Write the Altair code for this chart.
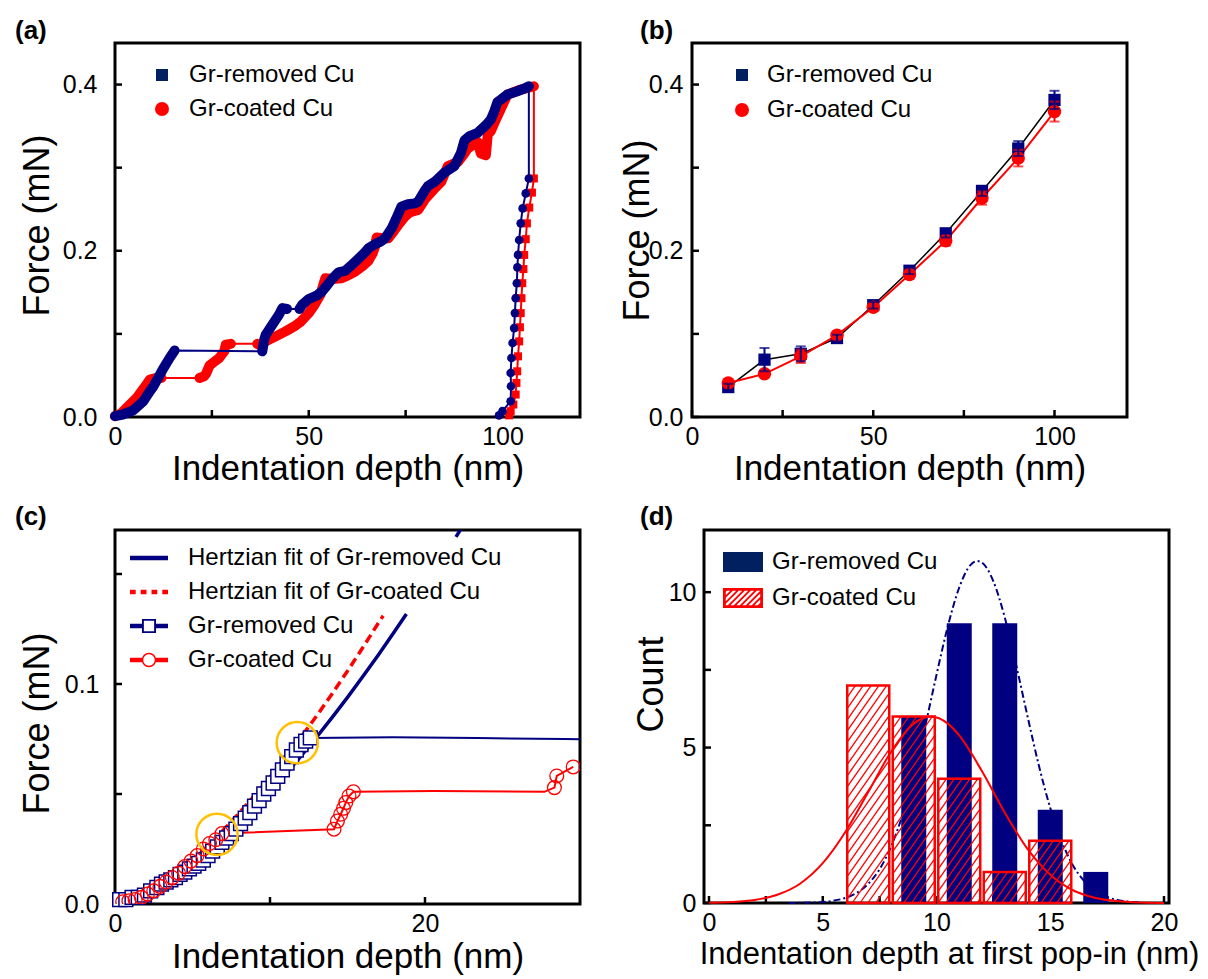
import altair as alt
import numpy as np
import pandas as pd

FONT = "Liberation Sans"
NAVY = "#000080"
KEY_NAVY = "#002060"
RED = "#FF0000"
GOLD = "#FFC000"

# ---------------- (a) load-displacement curves ----------------
a_rem_load1_x = [0, 2, 4.7, 7.3, 9.0, 9.8, 11.0, 12.4, 14.1, 15.4]
a_rem_load1_f = [0.001, 0.003, 0.008, 0.019, 0.031, 0.036, 0.046, 0.058, 0.071, 0.080]
a_rem_load2_x = [38.0, 38.5, 38.9, 40.6, 42.3, 43.2, 44.4]
a_rem_load2_f = [0.079, 0.093, 0.099, 0.111, 0.123, 0.131, 0.130]
a_rem_load3_x = [47.6, 48.3, 50.0, 52.0, 53.4, 54.5, 56.0, 57.7, 59.4, 61.1, 62.5, 64.5, 65.4,
                 67.1, 68.5, 69.7, 71.4, 72.5, 73.9, 75.6, 77.4, 78.2, 79.9, 80.8, 82.5, 85.0,
                 87.6, 89.3, 90.2, 91.5, 93.6, 95.7, 97.0, 97.9, 98.7, 99.6, 101.3, 103.8, 105.5, 106.8]
a_rem_load3_f = [0.130, 0.135, 0.142, 0.146, 0.151, 0.157, 0.166, 0.174, 0.176, 0.183, 0.189, 0.198, 0.203,
                 0.208, 0.211, 0.215, 0.227, 0.238, 0.253, 0.256, 0.257, 0.259, 0.272, 0.278, 0.283, 0.294,
                 0.302, 0.318, 0.333, 0.338, 0.342, 0.351, 0.358, 0.368, 0.379, 0.382, 0.388, 0.392, 0.395, 0.398]
a_rem_unload_x = [106.8, 106.0, 105.2, 104.7, 104.3, 104.0, 103.85, 103.7, 103.4, 103.2, 103.0,
                  102.6, 102.3, 102.1, 102.2, 102.1, 100.0, 99.1]
a_rem_unload_f = [0.287, 0.269, 0.251, 0.233, 0.213, 0.195, 0.180, 0.161, 0.143, 0.125, 0.107,
                  0.089, 0.071, 0.053, 0.037, 0.019, 0.007, 0.002]

a_coat_load1_x = [0, 1.5, 3.0, 4.5, 5.6, 7.0, 8.1, 9.0, 10.5, 12.0]
a_coat_load1_f = [0.001, 0.004, 0.011, 0.018, 0.023, 0.032, 0.039, 0.045, 0.047, 0.047]
a_coat_load2_x = [21.8, 23.0, 23.5, 24.4, 25.5, 26.9, 28.2, 28.6, 29.9]
a_coat_load2_f = [0.047, 0.049, 0.052, 0.062, 0.066, 0.071, 0.079, 0.087, 0.088]
a_coat_load3_x = [36.7, 37.6, 38.9, 40.2, 41.5, 44.0, 46.6, 48.0, 50.0, 51.5, 53.0, 53.8, 54.3,
                  56.0, 58.5, 60.0, 62.0, 64.0, 65.4, 66.5, 67.1, 67.5, 69.0, 70.5, 72.0, 73.1,
                  74.8, 76.0, 78.2, 80.0, 82.5, 84.2, 85.9, 88.5, 90.0, 91.0, 93.6, 94.4, 95.7,
                  96.2, 97.0, 98.5, 99.6, 101.3, 103.0, 104.7, 106.5, 108.1]
a_coat_load3_f = [0.088, 0.086, 0.091, 0.094, 0.097, 0.103, 0.110, 0.115, 0.125, 0.135, 0.147, 0.160, 0.167,
                  0.166, 0.167, 0.170, 0.175, 0.182, 0.188, 0.197, 0.205, 0.216, 0.215, 0.215, 0.224, 0.231,
                  0.241, 0.246, 0.249, 0.262, 0.275, 0.283, 0.302, 0.307, 0.316, 0.323, 0.331, 0.317, 0.315,
                  0.340, 0.344, 0.360, 0.371, 0.388, 0.391, 0.394, 0.396, 0.398]
a_coat_unload_x = [108.1, 107.6, 106.9, 106.3, 106.0, 105.6, 105.4, 105.1, 104.9, 104.7, 104.5,
                   104.3, 104.0, 103.8, 103.6, 103.4, 102.8, 102.1, 101.7]
a_coat_unload_f = [0.287, 0.270, 0.252, 0.233, 0.214, 0.195, 0.178, 0.161, 0.143, 0.125, 0.108,
                   0.091, 0.073, 0.055, 0.041, 0.027, 0.015, 0.007, 0.002]

# ---------------- (b) mean force at fixed depth ----------------
b_depth = [10, 20, 30, 40, 50, 60, 70, 80, 90, 100]
b_rem_force = [0.036, 0.069, 0.076, 0.095, 0.1345, 0.176, 0.221, 0.272, 0.323, 0.3815]
b_rem_err = [0.004, 0.014, 0.009, 0.004, 0.004, 0.004, 0.005, 0.006, 0.009, 0.011]
b_coat_force = [0.041, 0.052, 0.073, 0.0985, 0.132, 0.1714, 0.212, 0.2635, 0.3115, 0.3675]
b_coat_err = [0.004, 0.004, 0.008, 0.004, 0.004, 0.005, 0.006, 0.008, 0.010, 0.012]

# ---------------- (c) initial loading and Hertzian fits ----------------
c_rem_x = [0.3, 0.7, 1.1, 1.5, 1.9, 2.3, 2.7, 3.0, 3.3, 3.6, 3.9, 4.2, 4.5, 4.8, 5.1, 5.4, 5.7, 6.0,
           6.3, 6.6, 6.9, 7.2, 7.5, 7.8, 8.1, 8.4, 8.7, 9.0, 9.3, 9.6, 9.9, 10.2, 10.5, 10.8, 11.1,
           11.4, 11.7, 12.0, 12.3, 12.6]
c_rem_f = [0.002, 0.002, 0.003, 0.003, 0.004, 0.006, 0.0075, 0.009, 0.010, 0.011, 0.012, 0.0135,
           0.0145, 0.016, 0.0172, 0.0185, 0.020, 0.022, 0.024, 0.026, 0.028, 0.030, 0.032, 0.034,
           0.0365, 0.039, 0.0415, 0.0445, 0.047, 0.050, 0.0525, 0.055, 0.058, 0.061, 0.064, 0.067,
           0.070, 0.0725, 0.074, 0.0755]
c_rem_tail_x = [17.9, 23.4, 29.0, 31.0]
c_rem_tail_f = [0.0758, 0.0754, 0.0750, 0.0748]

c_coat1_x = [0.5, 0.9, 1.3, 1.7, 2.1, 2.5, 2.9, 3.3, 3.7, 4.1, 4.5, 4.9, 5.3, 5.7, 6.1, 6.5, 6.9]
c_coat1_f = [0.001, 0.0015, 0.002, 0.003, 0.0045, 0.006, 0.008, 0.010, 0.012, 0.014, 0.017,
             0.0195, 0.022, 0.025, 0.0275, 0.0292, 0.032]
c_coat2_x = [14.13, 14.35, 14.56, 14.74, 14.89, 15.10, 15.38]
c_coat2_f = [0.0340, 0.0377, 0.0408, 0.0435, 0.0461, 0.0491, 0.0510]
c_coat_mid_x = [20.6, 27.7]
c_coat_mid_f = [0.0514, 0.0510]
c_coat3_x = [28.35, 28.5, 29.56]
c_coat3_f = [0.0529, 0.0582, 0.0623]

c_fit_rem_x = [10, 11, 12, 13, 14, 15, 16, 17, 18, 18.8]
c_fit_rem_f = [0.0511, 0.0590, 0.0672, 0.0758, 0.0847, 0.0939, 0.1035, 0.1133, 0.1235, 0.1318]
c_fit_rem_top_x = [22.0, 22.5]
c_fit_rem_top_f = [0.1669, 0.1726]
c_fit_coat_x = [6.9, 8, 9, 10, 11, 12, 13, 14, 15, 16, 17, 17.3]
c_fit_coat_f = [0.0330, 0.0413, 0.0492, 0.0577, 0.0665, 0.0758, 0.0854, 0.0955, 0.1059, 0.1167, 0.1278, 0.1310]

c_popin_x = [6.58, 11.76]
c_popin_f = [0.0317, 0.0733]

# ---------------- (d) first pop-in depth histograms ----------------
d_rem_depth = [9, 11, 13, 15, 17]
d_rem_count = [6, 9, 9, 3, 1]
d_coat_depth = [7, 9, 11, 13, 15]
d_coat_count = [7, 6, 4, 1, 2]

d_rem_fit_x = [3.5, 4, 4.5, 5, 5.5, 6, 6.5, 7, 7.5, 8, 8.5, 9, 9.5, 10, 10.5, 11, 11.5, 11.8,
               12, 12.5, 13, 13.5, 14, 14.5, 15, 15.5, 16, 16.5, 17, 17.5, 18, 18.5, 19]
d_rem_fit_n = [0.002, 0.0055, 0.014, 0.034, 0.077, 0.164, 0.328, 0.617, 1.09, 1.81, 2.82, 4.13, 5.68,
               7.34, 8.91, 10.15, 10.88, 11.0, 10.95, 10.35, 9.19, 7.66, 6.01, 4.42, 3.06, 1.99, 1.21,
               0.70, 0.37, 0.19, 0.09, 0.04, 0.017]
d_coat_fit_x = [0, 1, 2, 3, 4, 5, 6, 7, 8, 9, 9.75, 10.5, 11, 12, 13, 14, 15, 16, 17, 18, 19, 20]
d_coat_fit_n = [0.009, 0.031, 0.097, 0.264, 0.62, 1.28, 2.29, 3.57, 4.86, 5.77, 6.0, 5.77, 5.39,
                4.24, 2.91, 1.74, 0.91, 0.41, 0.16, 0.056, 0.017, 0.004]

KEYS = ["Gr-removed Cu", "Gr-coated Cu"]
C_KEYS = ["Hertzian fit of Gr-removed Cu", "Hertzian fit of Gr-coated Cu", "Gr-removed Cu", "Gr-coated Cu"]


# ---------------- helpers ----------------
def f3(v):
    return f"{v:.3f}"


def rect_path(x0, y0, x1, y1, ccw=False):
    if ccw:
        return f"M{f3(x0)},{f3(y0)}V{f3(y1)}H{f3(x1)}V{f3(y0)}Z"
    return f"M{f3(x0)},{f3(y0)}H{f3(x1)}V{f3(y1)}H{f3(x0)}Z"


def ring_path(r_out, r_in):
    o = f"M{f3(-r_out)},0A{f3(r_out)} {f3(r_out)} 0 1 1 {f3(r_out)},0A{f3(r_out)} {f3(r_out)} 0 1 1 {f3(-r_out)},0Z"
    i = f"M{f3(-r_in)},0A{f3(r_in)} {f3(r_in)} 0 1 0 {f3(r_in)},0A{f3(r_in)} {f3(r_in)} 0 1 0 {f3(-r_in)},0Z"
    return o + i


def clip_half(poly, a, b, c):
    """Keep the part of a polygon with a*x + b*y <= c."""
    out = []
    n = len(poly)
    for k in range(n):
        p, q = poly[k], poly[(k + 1) % n]
        fp = a * p[0] + b * p[1] - c
        fq = a * q[0] + b * q[1] - c
        if fp <= 0:
            out.append(p)
        if fp * fq < 0:
            t = fp / (fp - fq)
            out.append((p[0] + t * (q[0] - p[0]), p[1] + t * (q[1] - p[1])))
    return out


def hatched_key_path():
    ix, iy = 0.86, 0.36
    path = rect_path(-1, -0.5, 1, 0.5) + rect_path(-ix, -iy, ix, iy, ccw=True)
    box = [(-ix, -iy), (ix, -iy), (ix, iy), (-ix, iy)]
    for c in np.arange(-1.3, 1.3, 0.3):
        poly = clip_half(box, -1, -1, -c)          # x + y >= c
        poly = clip_half(poly, 1, 1, c + 0.13)    # x + y <= c + w
        if len(poly) >= 3:
            path += "M" + "L".join(f"{f3(px)},{f3(py)}" for px, py in poly) + "Z"
    return path


# custom key symbols: the unit box [-1, 1] spans sqrt(symbolSize) pixels
SQUARE_KEY = rect_path(-0.86, -0.86, 0.86, 0.86)
LINE_KEY = rect_path(-1, -0.12, 1, 0.12)
DOTTED_KEY = "".join(rect_path(-1 + k * 0.5667, -0.12, -1 + k * 0.5667 + 0.3, 0.12) for k in range(4))
SQ_LINE_KEY = (rect_path(-1, -0.12, -0.37, 0.12) + rect_path(0.37, -0.12, 1, 0.12)
               + rect_path(-0.37, -0.37, 0.37, 0.37) + rect_path(-0.27, -0.27, 0.27, 0.27, ccw=True))
CIRC_LINE_KEY = (rect_path(-1, -0.12, -0.37, 0.12) + rect_path(0.37, -0.12, 1, 0.12)
                 + ring_path(0.38, 0.30))
BAR_KEY = rect_path(-1, -0.5, 1, 0.5)
HATCH_KEY = hatched_key_path()


def make_xy(xdom, ydom, xaxis, yaxis):
    xs = alt.Scale(domain=xdom, nice=False, zero=False)
    ys = alt.Scale(domain=ydom, nice=False, zero=False)

    def X(f="x"):
        return alt.X(f"{f}:Q", scale=xs, axis=xaxis)

    def Y(f="y"):
        return alt.Y(f"{f}:Q", scale=ys, axis=yaxis)

    return X, Y


def inner_ticks(X, Y, xvals, yvals, h, length=7):
    xt = alt.Chart(pd.DataFrame({"x": xvals})).mark_rule(color="black", strokeWidth=2.5).encode(
        x=X(), y=alt.value(h), y2=alt.value(h - length))
    yt = alt.Chart(pd.DataFrame({"y": yvals})).mark_rule(color="black", strokeWidth=2.5).encode(
        y=Y(), x=alt.value(0), x2=alt.value(length))
    return [xt, yt]


def key_layer(names, colors, shapes, size, lx, ly, label_offset, row_pad):
    leg = alt.Legend(title=None, orient="none", legendX=lx, legendY=ly, symbolSize=size,
                     symbolStrokeWidth=0, symbolOpacity=1, labelOffset=label_offset,
                     rowPadding=row_pad, padding=0, labelFontSize=24, labelFont=FONT,
                     labelColor="black", labelLimit=600)
    return alt.Chart(pd.DataFrame({"name": names})).mark_point(filled=True, opacity=0).encode(
        x=alt.value(0), y=alt.value(0),
        color=alt.Color("name:N", scale=alt.Scale(domain=names, range=colors), legend=leg),
        shape=alt.Shape("name:N", scale=alt.Scale(domain=names, range=shapes), legend=leg),
    )


def frame(parts):
    rows = []
    for label, xs, fs in parts:
        for x, f in zip(xs, fs):
            rows.append({"x": x, "y": f, "part": label})
    df = pd.DataFrame(rows)
    df["i"] = np.arange(len(df))
    return df


def panel_title(text, dx, dy):
    return alt.TitleParams(text=text, anchor="start", frame="group", orient="top", dx=dx, dy=dy, offset=3,
                           fontSize=26, fontWeight="bold", font=FONT, color="black", baseline="alphabetic")


def depth_axis(values, title, title_y=62, **kw):
    return alt.Axis(values=values, format="d", title=title, titleY=title_y, titleBaseline="alphabetic",
                    labelPadding=7, **kw)


def force_axis(values, fmt, title, title_x, title_y, pad):
    return alt.Axis(values=values, format=fmt, title=title, titleX=title_x, titleY=title_y,
                    titleAngle=270, titleAlign="center", titleBaseline="alphabetic",
                    titleFontSize=36, labelPadding=pad)


# ---------------- panel (a) ----------------
W_A, H_A = 465, 374
Xa, Ya = make_xy([0, 120], [0, 0.45],
                 depth_axis([0, 50, 100], "Indentation depth (nm)"),
                 force_axis([0, 0.2, 0.4], ".1f", "Force (mN)", -67, 182, 18))
df_a_rem = frame([("L1", a_rem_load1_x, a_rem_load1_f), ("L2", a_rem_load2_x, a_rem_load2_f),
                  ("L3", a_rem_load3_x, a_rem_load3_f), ("U", a_rem_unload_x, a_rem_unload_f)])
df_a_coat = frame([("L1", a_coat_load1_x, a_coat_load1_f), ("L2", a_coat_load2_x, a_coat_load2_f),
                   ("L3", a_coat_load3_x, a_coat_load3_f), ("U", a_coat_unload_x, a_coat_unload_f)])


def curve_layers(df, col, shape, size):
    thin = alt.Chart(df).mark_line(color=col, strokeWidth=2).encode(x=Xa(), y=Ya(), order="i:Q")
    band = alt.Chart(df).transform_filter("datum.part != 'U'").mark_line(
        color=col, strokeWidth=10, strokeJoin="round", strokeCap="round").encode(
        x=Xa(), y=Ya(), detail="part:N", order="i:Q")
    pts = alt.Chart(df).transform_filter("datum.part == 'U'").mark_point(
        shape=shape, filled=True, size=size, color=col, opacity=1).encode(x=Xa(), y=Ya())
    return [thin, band, pts]


panel_a = alt.layer(
    *inner_ticks(Xa, Ya, [0, 25, 50, 75, 100], [0, 0.1, 0.2, 0.3, 0.4], H_A),
    *curve_layers(df_a_coat, RED, "square", 64),
    *curve_layers(df_a_rem, NAVY, "circle", 75),
    key_layer(KEYS, [KEY_NAVY, RED], [SQUARE_KEY, "circle"], 196, 35, 20, 15, 10),
).properties(width=W_A, height=H_A, title=panel_title("(a)", -100, 28))

# ---------------- panel (b) ----------------
W_B, H_B = 435, 374
Xb, Yb = make_xy([0, 120], [0, 0.45],
                 depth_axis([0, 50, 100], "Indentation depth (nm)"),
                 force_axis([0, 0.2, 0.4], ".1f", "Force (mN)", -44, 187, 9))
df_b = pd.DataFrame({"x": b_depth, "rem": b_rem_force, "coat": b_coat_force})
df_b["rem_lo"] = df_b["rem"] - np.array(b_rem_err)
df_b["rem_hi"] = df_b["rem"] + np.array(b_rem_err)
df_b["coat_lo"] = df_b["coat"] - np.array(b_coat_err)
df_b["coat_hi"] = df_b["coat"] + np.array(b_coat_err)
base_b = alt.Chart(df_b)


def err_layers(lo, hi, col):
    return [
        base_b.mark_rule(color=col, strokeWidth=2).encode(x=Xb(), y=Yb(lo), y2=alt.Y2(f"{hi}:Q")),
        base_b.mark_tick(color=col, orient="horizontal", size=10, thickness=2).encode(x=Xb(), y=Yb(lo)),
        base_b.mark_tick(color=col, orient="horizontal", size=10, thickness=2).encode(x=Xb(), y=Yb(hi)),
    ]


panel_b = alt.layer(
    *inner_ticks(Xb, Yb, [0, 25, 50, 75, 100], [0, 0.1, 0.2, 0.3, 0.4], H_B),
    base_b.mark_line(color="black", strokeWidth=1.5).encode(x=Xb(), y=Yb("rem")),
    base_b.mark_line(color=RED, strokeWidth=2).encode(x=Xb(), y=Yb("coat")),
    base_b.mark_point(shape="square", filled=True, size=150, color=NAVY, opacity=1).encode(x=Xb(), y=Yb("rem")),
    base_b.mark_point(shape="circle", filled=True, size=180, color=RED, opacity=1).encode(x=Xb(), y=Yb("coat")),
    *err_layers("coat_lo", "coat_hi", RED),
    *err_layers("rem_lo", "rem_hi", NAVY),
    key_layer(KEYS, [KEY_NAVY, RED], [SQUARE_KEY, "circle"], 196, 38, 20, 13, 11),
).properties(width=W_B, height=H_B, title=panel_title("(b)", -52, 28))

# ---------------- panel (c) ----------------
W_C, H_C = 465, 374
Xc, Yc = make_xy([0, 30], [0, 0.17],
                 depth_axis([0, 20], "Indentation depth (nm)", title_y=63),
                 force_axis([0, 0.1], ".1f", "Force (mN)", -67, 193, 16))
df_c_fit_rem = frame([("main", c_fit_rem_x, c_fit_rem_f), ("top", c_fit_rem_top_x, c_fit_rem_top_f)])
df_c_fit_coat = frame([("main", c_fit_coat_x, c_fit_coat_f)])
df_c_rem = frame([("m", c_rem_x, c_rem_f), ("t", c_rem_tail_x, c_rem_tail_f)])
df_c_coat = frame([("m", c_coat1_x, c_coat1_f), ("m", c_coat2_x, c_coat2_f),
                   ("t", c_coat_mid_x, c_coat_mid_f), ("m", c_coat3_x, c_coat3_f)])
df_c_popin = pd.DataFrame({"x": c_popin_x, "y": c_popin_f})

panel_c = alt.layer(
    *inner_ticks(Xc, Yc, [0, 10, 20], [0, 0.05, 0.1, 0.15], H_C),
    alt.Chart(df_c_fit_coat).mark_line(color=RED, strokeWidth=3.5, strokeDash=[9, 5], clip=True).encode(
        x=Xc(), y=Yc(), order="i:Q"),
    alt.Chart(df_c_fit_rem).mark_line(color=NAVY, strokeWidth=3.5, clip=True).encode(
        x=Xc(), y=Yc(), detail="part:N", order="i:Q"),
    alt.Chart(df_c_rem).mark_line(color=NAVY, strokeWidth=2, clip=True).encode(x=Xc(), y=Yc(), order="i:Q"),
    alt.Chart(df_c_coat).mark_line(color=RED, strokeWidth=2, clip=True).encode(x=Xc(), y=Yc(), order="i:Q"),
    alt.Chart(df_c_rem).transform_filter("datum.part == 'm'").mark_point(
        shape="square", filled=True, fill="white", stroke=NAVY, strokeWidth=1.5, size=190, opacity=1).encode(
        x=Xc(), y=Yc()),
    alt.Chart(df_c_coat).transform_filter("datum.part == 'm'").mark_point(
        shape="circle", filled=False, stroke=RED, strokeWidth=1.3, size=190, opacity=1, clip=True).encode(
        x=Xc(), y=Yc()),
    alt.Chart(df_c_popin).mark_point(shape="circle", filled=False, stroke=GOLD, strokeWidth=2.5,
                                     size=1700, opacity=1).encode(x=Xc(), y=Yc()),
    key_layer(C_KEYS, [NAVY, RED, NAVY, RED], [LINE_KEY, DOTTED_KEY, SQ_LINE_KEY, CIRC_LINE_KEY],
              1444, 15, 9, 20, 3),
).properties(width=W_C, height=H_C, title=panel_title("(c)", -100, 25))

# ---------------- panel (d) ----------------
W_D, H_D = 465, 373
Xd, Yd = make_xy([0, 20], [0, 12],
                 depth_axis([0, 5, 10, 15, 20], "Indentation depth at first pop-in (nm)", title_y=60,
                            titleFontSize=31, titleX=245, titleAlign="center"),
                 force_axis([0, 5, 10], "d", "Count", -42, 154, 8))
SX, SY = W_D / 20.0, H_D / 12.0
COAT_HALF_PX = 21


def hatch_segments(centers, counts, half_px, spacing=8.0, slope=1.4):
    rows = []
    for c, n in zip(centers, counts):
        x0, x1, h = c * SX - half_px, c * SX + half_px, n * SY
        a = x0 - h / slope
        while a < x1:
            ylo = max(0.0, slope * (x0 - a))
            yhi = min(h, slope * (x1 - a))
            if yhi > ylo:
                rows.append({"x": (a + ylo / slope) / SX, "y": ylo / SY,
                             "x2": (a + yhi / slope) / SX, "y2": yhi / SY})
            a += spacing
    return pd.DataFrame(rows)


df_d_rem = pd.DataFrame({"x": d_rem_depth, "y": d_rem_count})
df_d_coat = pd.DataFrame({"x": d_coat_depth, "y": d_coat_count})
df_d_hatch = hatch_segments(d_coat_depth, d_coat_count, COAT_HALF_PX)
df_d_fit_rem = pd.DataFrame({"x": d_rem_fit_x, "y": d_rem_fit_n})
df_d_fit_coat = pd.DataFrame({"x": d_coat_fit_x, "y": d_coat_fit_n})

panel_d = alt.layer(
    *inner_ticks(Xd, Yd, [0, 2.5, 5, 7.5, 10, 12.5, 15, 17.5, 20], [0, 2.5, 5, 7.5, 10], H_D),
    alt.Chart(df_d_rem).mark_bar(color=NAVY, size=25).encode(x=Xd(), y=Yd()),
    alt.Chart(df_d_fit_rem).mark_line(color=NAVY, strokeWidth=2, strokeDash=[7, 3, 2, 3],
                                      interpolate="monotone").encode(x=Xd(), y=Yd()),
    alt.Chart(df_d_hatch).mark_rule(color=RED, strokeWidth=1.3).encode(
        x=Xd(), y=Yd(), x2=alt.X2("x2:Q"), y2=alt.Y2("y2:Q")),
    alt.Chart(df_d_coat).mark_bar(fill="transparent", stroke=RED, strokeWidth=2.5,
                                  size=2 * COAT_HALF_PX).encode(x=Xd(), y=Yd()),
    alt.Chart(df_d_fit_coat).mark_line(color=RED, strokeWidth=2, interpolate="monotone").encode(x=Xd(), y=Yd()),
    key_layer(KEYS, [KEY_NAVY, RED], [BAR_KEY, HATCH_KEY], 1600, 19, 12, 9, 4),
).properties(width=W_D, height=H_D, title=panel_title("(d)", -64, 25))

# ---------------- layout ----------------
top = alt.hconcat(panel_a, panel_b, spacing=112, bounds="flush").resolve_scale(
    color="independent", shape="independent")
bottom = alt.hconcat(panel_c, panel_d, spacing=124, bounds="flush").resolve_scale(
    color="independent", shape="independent")
chart = alt.vconcat(top, bottom, spacing=14).resolve_scale(
    color="independent", shape="independent")

chart = chart.properties(
    padding={"left": 13, "top": 16, "right": 5, "bottom": 5}, background="white"
).configure_view(stroke="black", strokeWidth=3).configure_axis(
    labelFont=FONT, titleFont=FONT, labelFontSize=25, titleFontSize=35, titleFontWeight="normal",
    labelColor="black", titleColor="black", domain=False, ticks=False, tickSize=0, grid=False,
    labelFlush=False, labelOverlap=False,
)

chart.save("out.html", embed_options={"renderer": "svg", "actions": False})
